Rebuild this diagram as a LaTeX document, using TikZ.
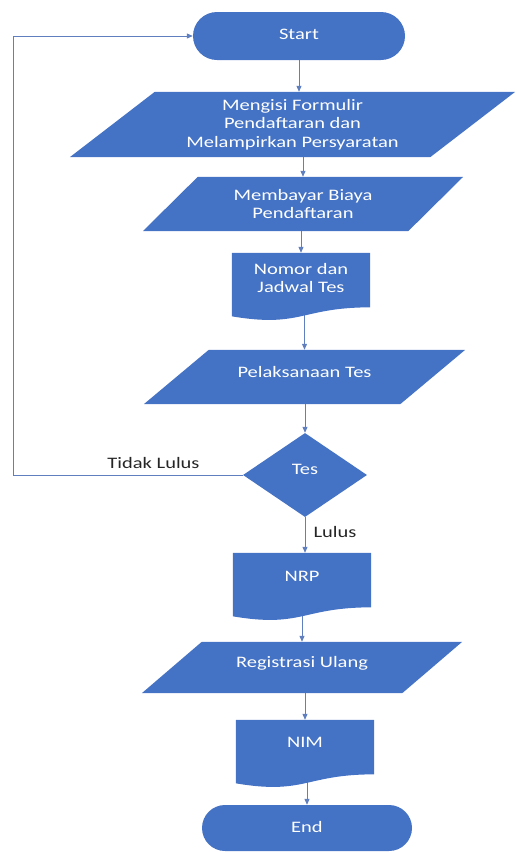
\documentclass[tikz,border=0pt]{standalone}
\usepackage{fontspec}
\setmainfont{Carlito}[FakeStretch=1.28]
\usetikzlibrary{arrows.meta,shapes.geometric,shapes.misc,calc}
\definecolor{sfill}{HTML}{4472C4}
\definecolor{lcol}{HTML}{5F7FBF}
\pgfdeclarelayer{bgl}
\pgfdeclarelayer{shl}
\pgfsetlayers{bgl,shl,main}
\newcommand\paraShape[2]{\fill[sfill] ([xshift=#2]#1.north west) -- (#1.north east) -- ([xshift=-#2]#1.south east) -- (#1.south west) -- cycle;}
\newcommand\docShape[2]{\fill[sfill] (#1.north west) -- (#1.north east) -- ($(#1.north east)+(0,0.802*#2)$) .. controls ($(#1.north)+(0,0.802*#2)$) and ($(#1.north)+(0,1.107*#2)$) .. ($(#1.north west)+(0,0.934*#2)$) -- cycle;}
\begin{document}
\begin{tikzpicture}[x=1pt,y=-1pt,
  txt/.style={text=white,inner sep=0pt,align=center,font=\fontsize{16}{18.5}\selectfont},
  term/.style={txt,rounded rectangle,fill=sfill,minimum width=212pt,minimum height=48pt},
  dec/.style={txt,diamond,fill=sfill,minimum width=124pt,minimum height=84pt},
  blk/.style={txt,rectangle},
  conn/.style={lcol,line width=1pt,-{Triangle[length=6pt,width=5pt]}},
  lbl/.style={text=black!85,font=\fontsize{16}{18}\selectfont,inner sep=0pt}
]
\useasboundingbox (0,0) rectangle (517,852);

\node[term] (start) at (299,36) {\raisebox{4pt}{Start}};
\node[blk,minimum width=445pt,minimum height=65pt] (p1) at (292.5,124.5) {Mengisi Formulir\\Pendaftaran dan\\Melampirkan Persyaratan};
\node[blk,minimum width=320pt,minimum height=54pt] (p2) at (303,204) {Membayar Biaya\\Pendaftaran};
\node[blk,minimum width=138pt,minimum height=50pt] (d1) at (301,278) {Nomor dan\\Jadwal Tes};
\node[blk,minimum width=321pt,minimum height=54pt] (p3) at (304.5,377) {\raisebox{10pt}{Pelaksanaan Tes}};
\node[dec] (dec) at (305,475) {\raisebox{12pt}{Tes}};
\node[blk,minimum width=138pt,minimum height=46pt] (nrp) at (302,576) {NRP};
\node[blk,minimum width=320pt,minimum height=51pt] (p4) at (302,667.5) {\raisebox{12pt}{Registrasi Ulang}};
\node[blk,minimum width=138pt,minimum height=44pt] (nim) at (305,742) {NIM};
\node[term,minimum width=210pt,minimum height=46pt] (end) at (307,828) {\raisebox{2pt}{End}};

\node[lbl] (lno) at (153.5,463) {Tidak Lulus};
\node[lbl] (lyes) at (335,532) {Lulus};
\coordinate (lp) at (13,475);

\begin{pgfonlayer}{shl}
\paraShape{p1}{85pt}
\paraShape{p2}{55pt}
\paraShape{p3}{65pt}
\paraShape{p4}{60pt}
\docShape{d1}{68}
\docShape{nrp}{68}
\docShape{nim}{68}
\end{pgfonlayer}

\begin{pgfonlayer}{bgl}
\draw[conn] (start.south) -- (start.south |- p1.north);
\draw[conn] (p1.south -| p2.north) -- (p2.north);
\draw[conn] (p2.south -| d1.north) -- (d1.north);
\draw[conn] (d1.south -| p3.north) -- (p3.north);
\draw[conn] (p3.south -| dec.north) -- (dec.north);
\draw[conn] (dec.south) -- (dec.south |- nrp.north);
\draw[conn] (nrp.south -| p4.north) -- (p4.north);
\draw[conn] (p4.south -| nim.north) -- (nim.north);
\draw[conn] (nim.south -| end.north) -- (end.north);
\draw[conn] (dec.west) -- (lp) |- (start.west);
\end{pgfonlayer}
\end{tikzpicture}
\end{document}
